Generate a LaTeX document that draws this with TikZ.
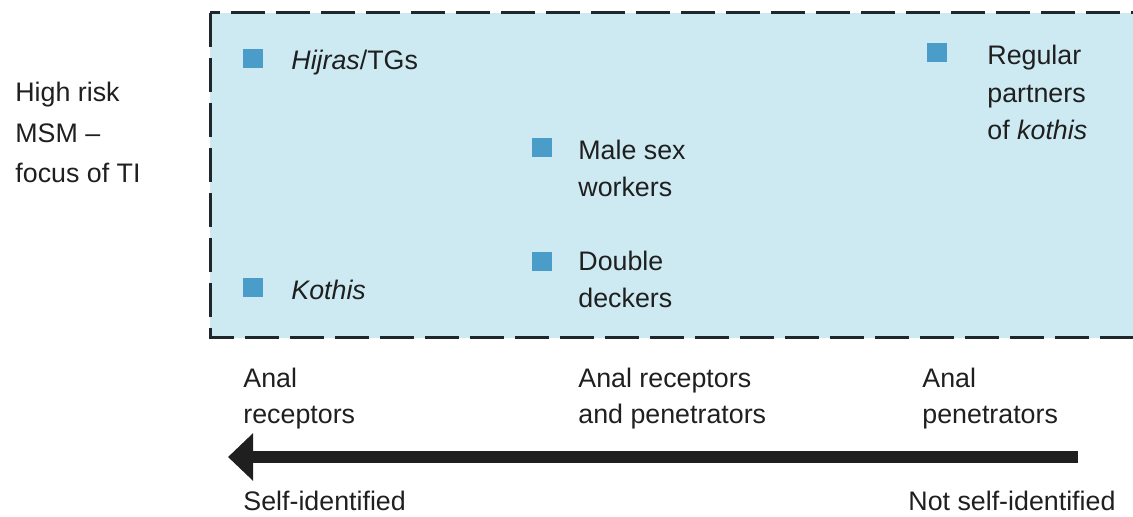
\documentclass[tikz,border=0pt]{standalone}
\usepackage{fontspec}
\setmainfont{Liberation Sans}
\usepackage{xcolor}
\usetikzlibrary{arrows.meta}

\definecolor{boxfill}{HTML}{CDEAF3}
\definecolor{bulletblue}{HTML}{4A9DC9}
\definecolor{textgray}{HTML}{1F1F1F}
\definecolor{edgegray}{HTML}{1E282C}

\tikzset{
    bullet/.style={rectangle, fill=bulletblue, minimum width=10pt, minimum height=9.5pt, inner sep=0pt},
    itemtext/.style={font=\fontsize{13.4}{18.75}\selectfont, align=left, inner sep=0pt, anchor=base west, text=textgray},
    sidetext/.style={itemtext, font=\fontsize{13.4}{20.25}\selectfont},
    axistext/.style={itemtext, font=\fontsize{13.4}{18}\selectfont}
}

\begin{document}
\begin{tikzpicture}[x=0.5pt, y=-0.5pt]
                \useasboundingbox (0, 0) rectangle (1133, 517);
                
                % shaded region
                \begin{scope}
                \clip (0, 0) rectangle (1133, 517);
                \draw[fill=boxfill, draw=edgegray, line width=1.5pt, dash pattern=on 17pt off 5.5pt] (210, 13) rectangle (1150, 338);
                \end{scope}
                
                % multi-line texts sit on the baseline of their last line
                \node[sidetext] (high risk) at (15, 183) {High risk\\MSM --\\focus of TI};
                
                \node[bullet] (sq hijras) at (253, 59) {};
                \node[itemtext] (hijras) at (291, 70) {\textit{Hijras}/TGs};
                
                \node[bullet] (sq kothis) at (253, 288) {};
                \node[itemtext] (kothis) at (291, 300) {\textit{Kothis}};
                
                \node[bullet] (sq msw) at (542, 148) {};
                \node[itemtext] (msw) at (578, 197) {Male sex\\workers};
                
                \node[bullet] (sq double) at (542, 262) {};
                \node[itemtext] (double) at (578, 308) {Double\\deckers};
                
                \node[bullet] (sq regular) at (937, 53) {};
                \node[itemtext] (regular) at (987, 140) {Regular\\partners\\of \textit{kothis}};
                
                \node[axistext] (receptors) at (243, 423) {Anal\\receptors};
                \node[axistext] (both) at (578, 423) {Anal receptors\\and penetrators};
                \node[axistext] (penetrators) at (922, 423) {Anal\\penetrators};
                
                \coordinate (arrow right) at (1078, 457);
                \coordinate (arrow left) at (228, 457);
                \draw[line width=6pt, color=textgray, -{Triangle[length=12.5pt, width=23pt]}] (arrow right)--(arrow left);
                
                \node[itemtext] (self) at (243, 510) {Self-identified};
                \node[itemtext] (not self) at (908, 510) {Not self-identified};
            \end{tikzpicture}
\end{document}
